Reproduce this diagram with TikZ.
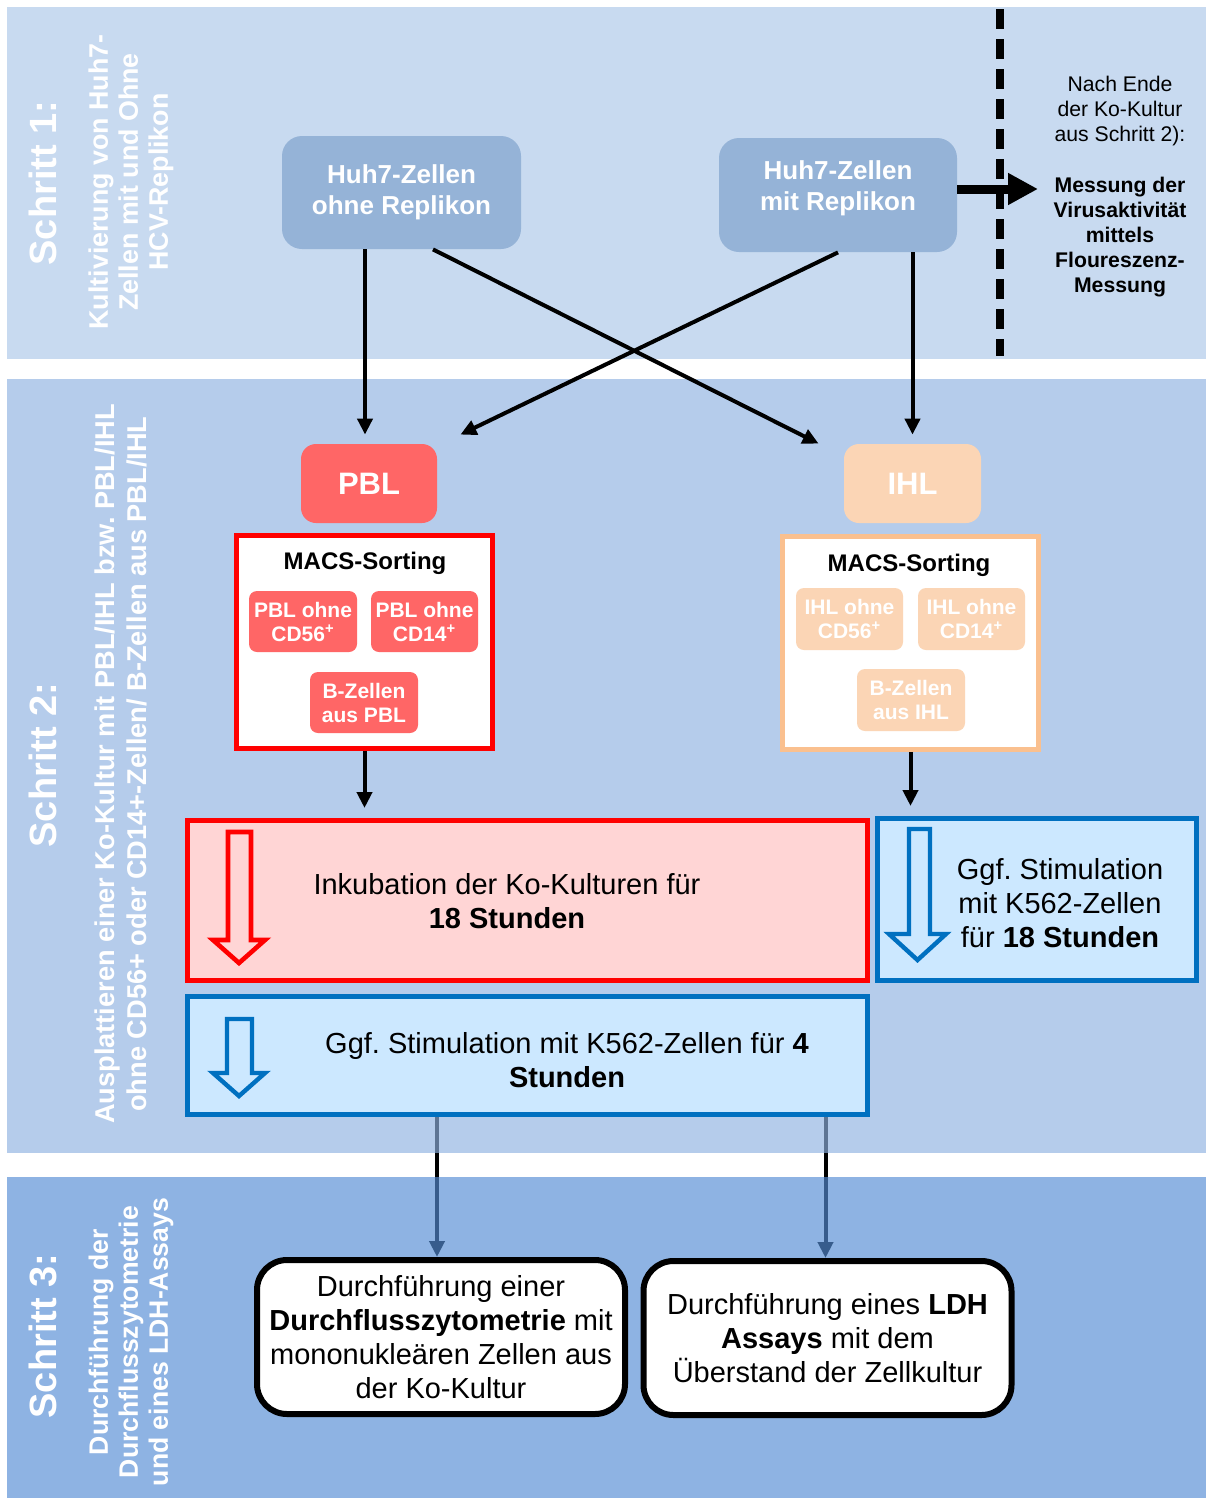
\documentclass[tikz,border=0pt]{standalone}
\usepackage{fontspec}
\setmainfont{Liberation Sans}
\usetikzlibrary{arrows.meta,calc}
\pgfdeclarelayer{bgw}
\pgfdeclarelayer{conn}
\pgfdeclarelayer{bands}
\pgfsetlayers{bgw,conn,bands,main}
\frenchspacing

\definecolor{band1}{RGB}{200,218,240}
\definecolor{band2}{RGB}{143,179,225}
\definecolor{band3}{RGB}{84,141,213}
\definecolor{huh}{RGB}{149,179,215}
\definecolor{pbl}{RGB}{255,102,102}
\definecolor{ihl}{RGB}{251,213,181}
\definecolor{ihlborder}{RGB}{250,192,143}
\definecolor{incfill}{RGB}{255,213,213}
\definecolor{stimfill}{RGB}{204,232,255}
\definecolor{stimborder}{RGB}{0,112,192}

\tikzset{
  huhbox/.style={fill=huh, rounded corners=10pt, inner sep=0pt, text=white,
    font=\bfseries\fontsize{13}{15.5}\selectfont, align=center},
  cellbox/.style={rounded corners=7.5pt, inner sep=0pt, text=white,
    font=\bfseries\fontsize{15.5}{18}\selectfont, minimum width=68pt, minimum height=39.5pt},
  macsbox/.style={fill=white, line width=2.5pt, inner sep=0pt,
    minimum width=128pt, minimum height=106.5pt},
  macstitle/.style={font=\bfseries\fontsize{12}{14}\selectfont, inner sep=0pt},
  subbox/.style={rounded corners=4pt, inner sep=0pt, text=white, align=center,
    font=\bfseries\fontsize{10.5}{12}\selectfont, minimum width=53.5pt, minimum height=30.5pt},
  stepbox/.style={line width=2.5pt, inner sep=0pt},
  bodytext/.style={font=\fontsize{14.5}{17}\selectfont, align=center, inner sep=0pt},
  endbox/.style={draw=black, fill=white, line width=3pt, rounded corners=15pt, inner sep=0pt,
    minimum width=184pt, minimum height=77pt, font=\fontsize{14.5}{17}\selectfont, align=center},
  arr/.style={line width=2pt, -{Triangle[length=8pt,width=7.5pt]}},
  sidetitle/.style={rotate=90, text=white, font=\bfseries\fontsize{19}{22}\selectfont, inner sep=0pt},
  sidesub/.style={rotate=90, text=white, align=center, inner sep=0pt}
}

\begin{document}
\begin{tikzpicture}[x=0.5pt,y=-0.5pt]
\useasboundingbox (0,0) rectangle (1206,1499);
\begin{pgfonlayer}{bgw}
  \fill[white] (0,0) rectangle (1206,1499);
\end{pgfonlayer}
\begin{pgfonlayer}{bands}
  \fill[band1] (7,7) rectangle (1206,359);
  \fill[band2, fill opacity=0.66] (7,379) rectangle (1206,1153);
  \fill[band3, fill opacity=0.66] (7,1177) rectangle (1206,1498);
\end{pgfonlayer}

% side labels
\node[sidetitle] (s1) at (43,183) {Schritt 1:};
\node[sidesub, font=\bfseries\fontsize{13.4}{15}\selectfont] (s1sub) at (131,182)
  {Kultivierung von Huh7-\\Zellen mit und Ohne\\HCV-Replikon};
\node[sidetitle] (s2) at (43,765) {Schritt 2:};
\node[sidesub, font=\bfseries\fontsize{13.6}{16}\selectfont] (s2sub) at (121,764)
  {Ausplattieren einer Ko-Kultur mit PBL/IHL bzw. PBL/IHL\\ohne CD56+ oder CD14+-Zellen/ B-Zellen aus PBL/IHL};
\node[sidetitle] (s3) at (43,1336) {Schritt 3:};
\node[sidesub, font=\bfseries\fontsize{13.3}{15}\selectfont] (s3sub) at (131,1342)
  {Durchführung der\\Durchflusszytometrie\\und eines LDH-Assays};

% step 1
\node[huhbox, minimum width=119.5pt, minimum height=56.5pt] (huhL) at (401.5,192.5) {Huh7-Zellen\\ohne Replikon};
\node[huhbox, minimum width=119pt, minimum height=57pt] (huhR) at (838,195) {Huh7-Zellen\\mit Replikon\\[-6pt]\mbox{}};
\draw[line width=4pt, dash pattern=on 10pt off 5pt] (1000,9) -- (1000,356);
\coordinate (meas) at (1038,189);
\draw[line width=4.5pt, -{Triangle[length=15pt,width=15pt]}] (huhR.east |- meas) -- (meas);
\node[font=\fontsize{10.6}{12.5}\selectfont, align=center, inner sep=0pt] (note) at (1120,111)
  {Nach Ende\\der Ko-Kultur\\aus Schritt 2):};
\node[font=\bfseries\fontsize{10.6}{12.5}\selectfont, align=center, inner sep=0pt] (meastext) at (1120,237)
  {Messung der\\Virusaktivität\\mittels\\Floureszenz-\\Messung};

% step 2
\node[cellbox, fill=pbl] (pbl) at (369,483.5) {PBL};
\node[cellbox, fill=ihl, minimum width=68.5pt] (ihl) at (912.5,483.5) {IHL};

\draw[arr, shorten >=4.5pt] ([xshift=-2pt]pbl.north |- huhL.south) -- ([xshift=-2pt]pbl.north);
\draw[arr, shorten >=4.5pt] (ihl.north |- huhR.south) -- (ihl.north);
\draw[arr] ($(huhL.south)+(31.5,0)$) -- ($(ihl.north west)+(-25,0)$);
\draw[arr] (huhR.south) -- ($(pbl.north east)+(23,-9)$);

\node[macsbox, draw=red] (macsP) at (364.5,642) {};
\node[macsbox, draw=ihlborder] (macsI) at (910.5,643) {};
\node[macstitle] (mtP) at (365,563) {MACS-Sorting};
\node[macstitle] (mtI) at (909,565) {MACS-Sorting};
\node[subbox, fill=pbl, minimum width=54pt] (pa) at (303,621.5) {PBL ohne\\CD56\textsuperscript{+}};
\node[subbox, fill=pbl] (pb) at (424.5,621.5) {PBL ohne\\CD14\textsuperscript{+}};
\node[subbox, fill=pbl, minimum width=54pt] (pc) at (364,702.5) {B-Zellen\\aus PBL};
\node[subbox, fill=ihl, minimum height=31pt] (ia) at (849.5,619) {IHL ohne\\CD56\textsuperscript{+}};
\node[subbox, fill=ihl, minimum height=31pt] (ib) at (971.5,619) {IHL ohne\\CD14\textsuperscript{+}};
\node[subbox, fill=ihl, minimum width=54pt, minimum height=31pt] (ic) at (911,700) {B-Zellen\\aus IHL};

\node[stepbox, draw=red, fill=incfill, minimum width=340pt, minimum height=80pt] (incub) at (527.5,900.5) {};
\node[stepbox, draw=stimborder, fill=stimfill, minimum width=159.5pt, minimum height=81pt] (stimR) at (1037,899.5) {};
\node[stepbox, draw=stimborder, fill=stimfill, minimum width=340pt, minimum height=59pt] (stimB) at (527.5,1055.5) {};

\draw[arr, shorten >=5pt] (macsP.south) -- (macsP.south |- incub.north);
\draw[arr, shorten >=5pt] (macsI.south) -- (macsI.south |- stimR.north);

% hollow arrows
\draw[red, line width=2.3pt, fill=incfill, line join=miter]
  (228,832) -- (251,832) -- (251,940) -- (265,940) -- (239,963) -- (213,940) -- (228,940) -- cycle;
\draw[stimborder, line width=2.2pt, fill=stimfill, line join=miter]
  (909,829) -- (930,829) -- (930,934) -- (946,934) -- (917.5,960) -- (889,934) -- (909,934) -- cycle;
\draw[stimborder, line width=2.2pt, fill=stimfill, line join=miter]
  (227,1019) -- (252,1019) -- (252,1073) -- (265,1073) -- (239,1096) -- (213,1073) -- (227,1073) -- cycle;

\node[bodytext] (inctext) at (507,901) {Inkubation der Ko-Kulturen für\\\textbf{18 Stunden}};
\node[bodytext] (stimRtext) at (1060,903) {Ggf. Stimulation\\mit K562-Zellen\\für \textbf{18 Stunden}};
\node[bodytext] (stimBtext) at (567,1060) {Ggf. Stimulation mit K562-Zellen für \textbf{4}\\\textbf{Stunden}};

% step 3
\node[endbox] (fcm) at (441,1337) {Durchführung einer\\\textbf{Durchflusszytometrie} mit\\mononukleären Zellen aus\\der Ko-Kultur};
\node[endbox] (ldh) at (827.5,1338) {Durchführung eines \textbf{LDH}\\\textbf{Assays} mit dem\\Überstand der Zellkultur};

\begin{pgfonlayer}{conn}
  \draw[arr] ([xshift=-2pt]fcm.north |- stimB.south) -- ([xshift=-2pt]fcm.north);
  \draw[arr] ([xshift=-1pt]ldh.north |- stimB.south) -- ([xshift=-1pt]ldh.north);
\end{pgfonlayer}
\end{tikzpicture}
\end{document}
